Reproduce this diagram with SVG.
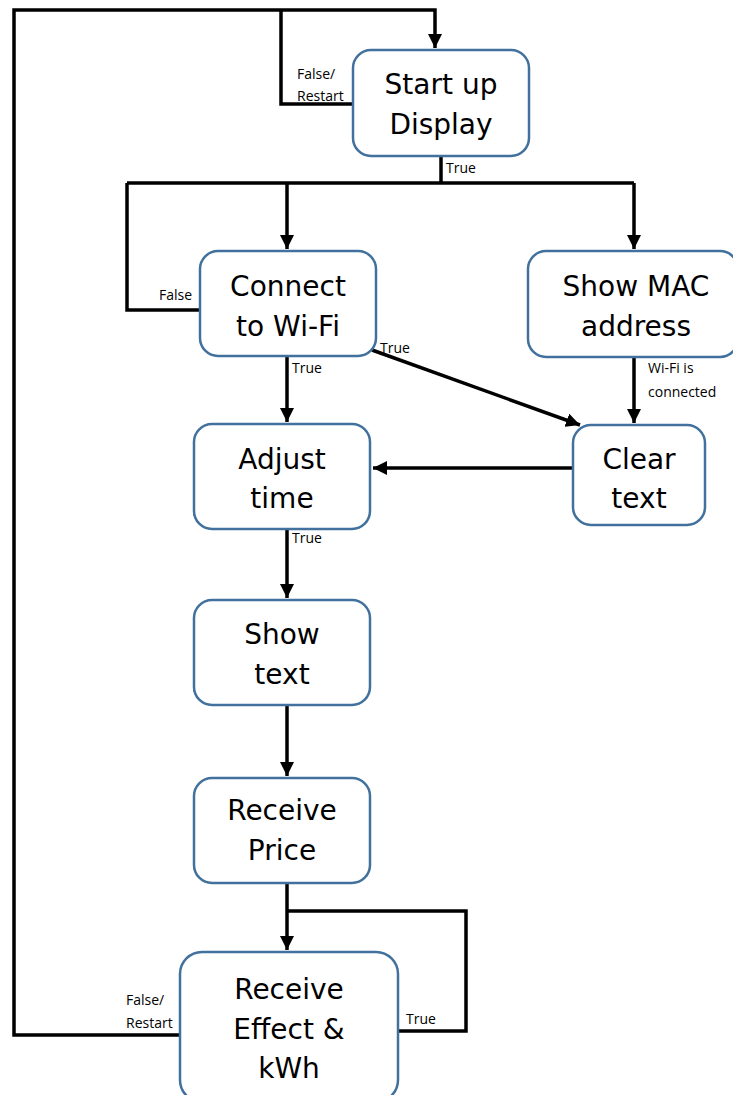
<svg xmlns="http://www.w3.org/2000/svg" width="733" height="1095" viewBox="0 0 733 1095">
  <defs>
    <marker id="arrow" viewBox="0 0 10 10" refX="10" refY="5" markerWidth="4" markerHeight="4" markerUnits="strokeWidth" orient="auto">
      <path d="M0,0 L10,5 L0,10 z" fill="#000"/>
    </marker>
    <style>
      .box { fill: #fff; stroke: #41719c; stroke-width: 2.5; }
      .node { font-family: "DejaVu Sans", Verdana, sans-serif; font-size: 28px; fill: #000; text-anchor: middle; }
      .edge { fill: none; stroke: #000; stroke-width: 3.5; }
      .lbl { font-family: "Open Sans", "Noto Sans", sans-serif; font-size: 14px; fill: #000; }
    </style>
  </defs>
  <rect width="733" height="1095" fill="#fff"/>

  <!-- connectors -->
  <g id="connectors">
    <!-- restart loop from Receive Effect back to Start up -->
    <polyline class="edge" points="180,1035 14,1035 14,10 435,10 435,48" marker-end="url(#arrow)"/>
    <!-- restart loop from Start up itself -->
    <polyline class="edge" points="353,104 281,104 281,10"/>
    <!-- Start up true branch -->
    <polyline class="edge" points="441,156 441,183"/>
    <polyline class="edge" points="127,183 634,183"/>
    <polyline class="edge" points="287,183 287,249" marker-end="url(#arrow)"/>
    <polyline class="edge" points="634,183 634,249" marker-end="url(#arrow)"/>
    <!-- Wi-Fi false loop -->
    <polyline class="edge" points="200,310 127,310 127,183"/>
    <!-- Wi-Fi true -->
    <polyline class="edge" points="287,356 287,422" marker-end="url(#arrow)"/>
    <polyline class="edge" points="372,350 580,425" marker-end="url(#arrow)"/>
    <!-- MAC to Clear -->
    <polyline class="edge" points="634,357 634,423" marker-end="url(#arrow)"/>
    <!-- Clear to Adjust -->
    <polyline class="edge" points="573,468 373,468" marker-end="url(#arrow)"/>
    <!-- Adjust to Show text -->
    <polyline class="edge" points="287,529 287,598" marker-end="url(#arrow)"/>
    <!-- Show text to Receive Price -->
    <polyline class="edge" points="287,705 287,776" marker-end="url(#arrow)"/>
    <!-- Receive Price to Receive Effect -->
    <polyline class="edge" points="287,883 287,950" marker-end="url(#arrow)"/>
    <!-- Receive Effect true loop -->
    <polyline class="edge" points="398,1031 466,1031 466,911 287,911"/>

    <text class="lbl" x="297" y="79">False/</text>
    <text class="lbl" x="297" y="101">Restart</text>
    <text class="lbl" x="446" y="173">True</text>
    <text class="lbl" x="159" y="300">False</text>
    <text class="lbl" x="380" y="353">True</text>
    <text class="lbl" x="292" y="373">True</text>
    <text class="lbl" x="648" y="373">Wi-Fi is</text>
    <text class="lbl" x="648" y="397">connected</text>
    <text class="lbl" x="292" y="543">True</text>
    <text class="lbl" x="126" y="1005">False/</text>
    <text class="lbl" x="126" y="1028">Restart</text>
    <text class="lbl" x="406" y="1024">True</text>
  </g>

  <g id="start-up-display">
    <rect class="box" x="353" y="50" width="176" height="106" rx="18"/>
    <text class="node" x="441" y="94">Start up</text>
    <text class="node" x="441" y="134">Display</text>
  </g>
  <g id="connect-wifi">
    <rect class="box" x="200" y="251" width="176" height="105" rx="18"/>
    <text class="node" x="288" y="296">Connect</text>
    <text class="node" x="288" y="336">to Wi-Fi</text>
  </g>
  <g id="show-mac">
    <rect class="box" x="528" y="251" width="210" height="106" rx="18"/>
    <text class="node" x="636" y="296">Show MAC</text>
    <text class="node" x="636" y="336">address</text>
  </g>
  <g id="adjust-time">
    <rect class="box" x="194" y="424" width="176" height="105" rx="18"/>
    <text class="node" x="282" y="469">Adjust</text>
    <text class="node" x="282" y="508">time</text>
  </g>
  <g id="clear-text">
    <rect class="box" x="573" y="425" width="132" height="100" rx="18"/>
    <text class="node" x="639" y="469">Clear</text>
    <text class="node" x="639" y="508">text</text>
  </g>
  <g id="show-text">
    <rect class="box" x="194" y="600" width="176" height="105" rx="18"/>
    <text class="node" x="282" y="644">Show</text>
    <text class="node" x="282" y="684">text</text>
  </g>
  <g id="receive-price">
    <rect class="box" x="194" y="778" width="176" height="105" rx="18"/>
    <text class="node" x="282" y="820">Receive</text>
    <text class="node" x="282" y="860">Price</text>
  </g>
  <g id="receive-effect">
    <rect class="box" x="180" y="952" width="218" height="150" rx="22"/>
    <text class="node" x="289" y="999">Receive</text>
    <text class="node" x="289" y="1039">Effect &amp;</text>
    <text class="node" x="289" y="1078">kWh</text>
  </g>
</svg>
